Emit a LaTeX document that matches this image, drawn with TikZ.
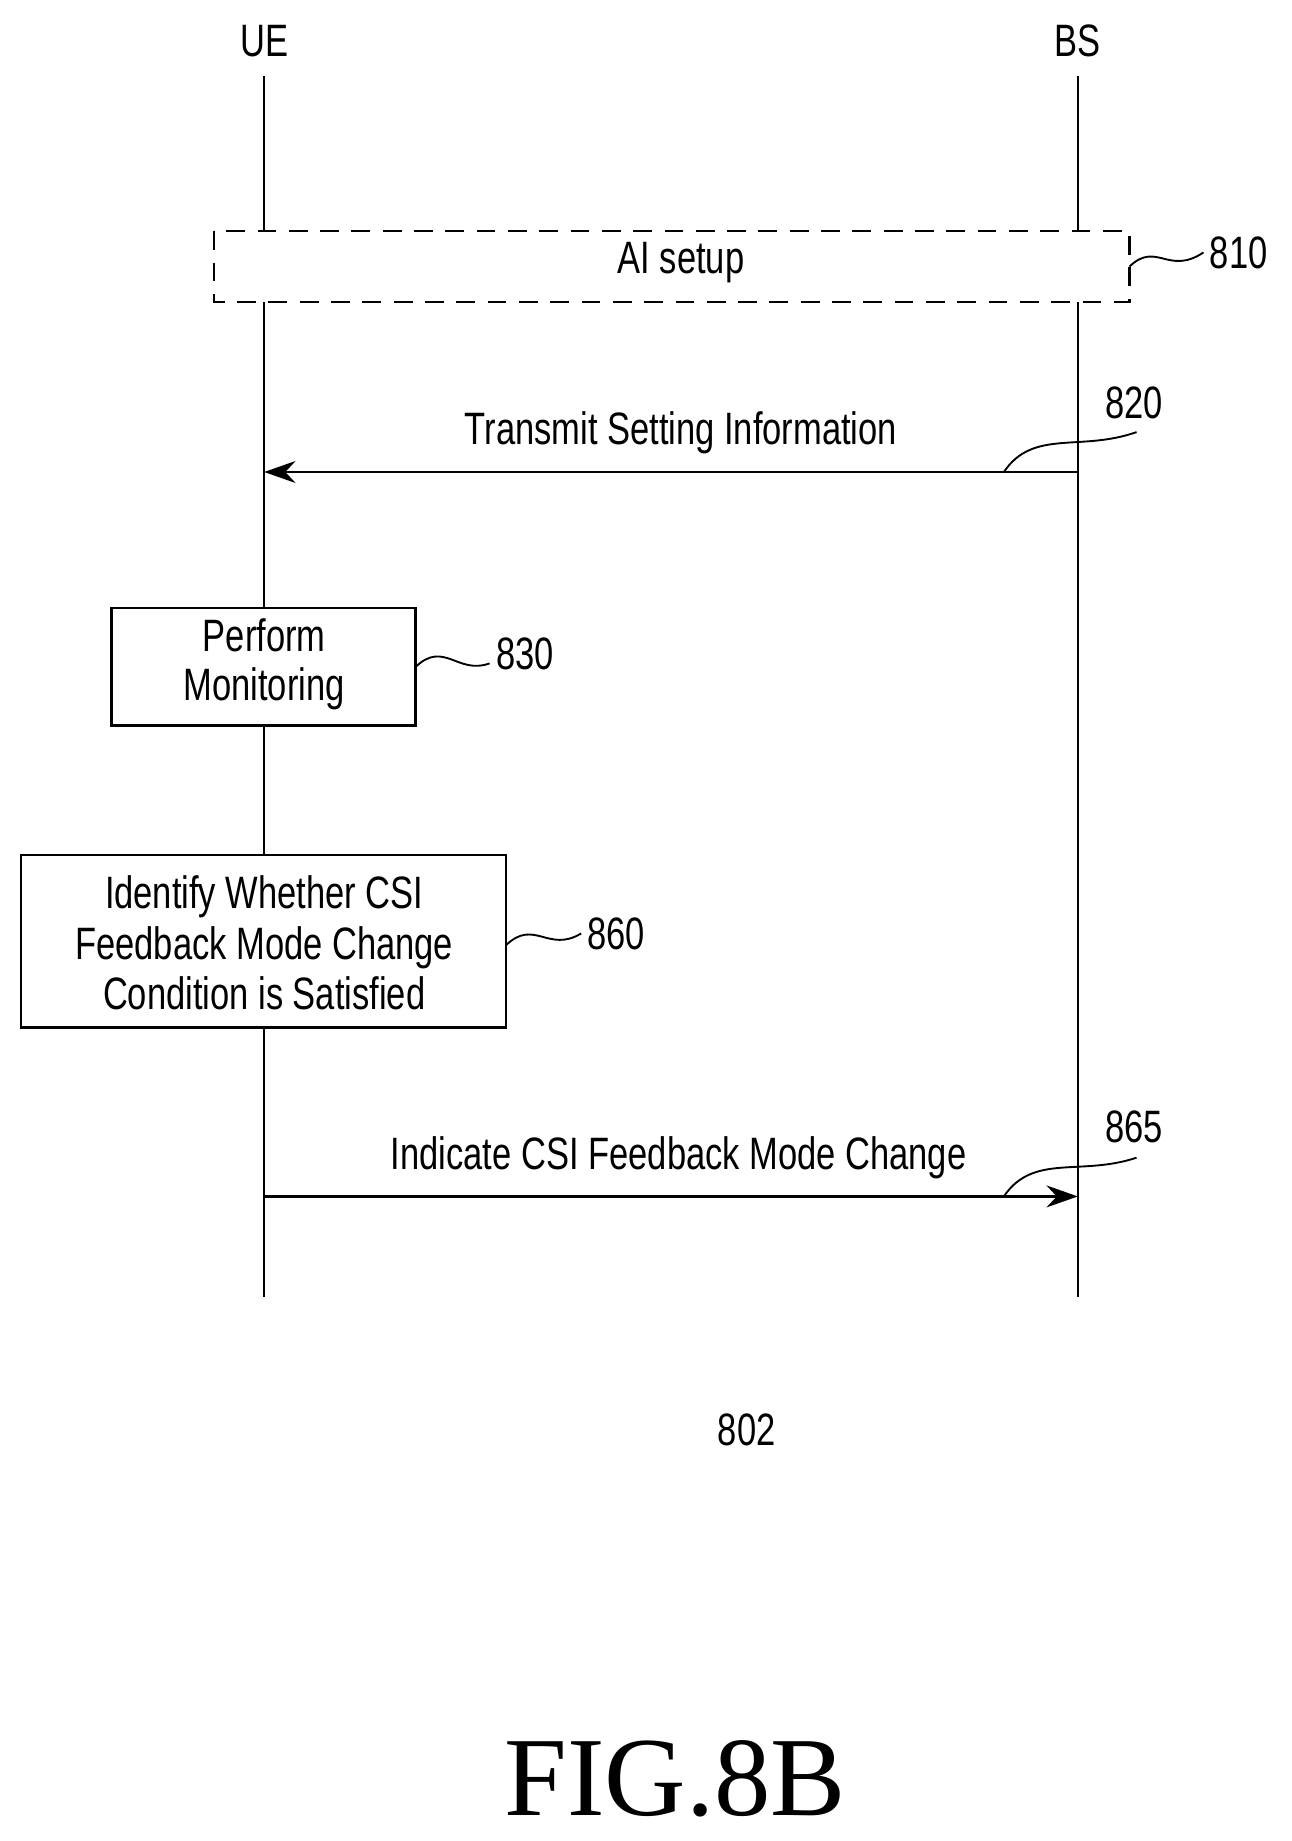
\documentclass[tikz,border=0pt]{standalone}
\usetikzlibrary{arrows.meta}
\usepackage{fontspec}
\setmainfont{Liberation Sans}[FakeStretch=0.76]
\newfontfamily\figfont{Liberation Serif}
\begin{document}
\begin{tikzpicture}[x=0.75pt,y=-0.75pt,
  lbl/.style={font=\fontsize{29}{33}\selectfont,inner sep=0pt},
  ln/.style={line width=1.5pt},
  sq/.style={line width=1.2pt},
  tip/.style={-{Stealth[length=20pt,width=14pt]}}]
\useasboundingbox (0,0) rectangle (1100,1568);
\node[lbl] (ue) at (225,35) {UE};
\node[lbl] (bs) at (918,35) {BS};
\coordinate (ueT) at (225,65); \coordinate (ueB) at (225,1105);
\coordinate (bsT) at (918,65); \coordinate (bsB) at (918,1105);
\draw[ln] (ueT)--(ueB); \draw[ln] (bsT)--(bsB);
% 810
\draw[ln,dashed,dash pattern=on 12pt off 8pt,fill=white] (182,197) rectangle (962,257);
\node[lbl] (ait) at (580,224) {AI setup};
\node[lbl] (l810) at (1055,215) {810};
\draw[sq] (962,227) .. controls (985,205) and (995,235) .. (1025,215);
% 820
\coordinate (a1) at (918,402); \coordinate (a2) at (225,402);
\draw[ln,tip] (a1)--(a2);
\node[lbl] (t820) at (580,369) {Transmit Setting Information};
\node[lbl] (l820) at (966,343) {820};
\draw[sq] (855,402) .. controls (880,365) and (920,385) .. (968,368);
% 830
\draw[ln,fill=white] (95,518) rectangle (354,618);
\node[align=center,font=\fontsize{29}{31.5}\selectfont] (b830) at (225,566) {Perform\\Monitoring};
\node[lbl] (l830) at (447,557) {830};
\draw[sq] (354,568) .. controls (378,545) and (390,575) .. (417,565);
% 860
\draw[ln,fill=white] (18,728) rectangle (431,875);
\node[align=center,font=\fontsize{29}{32}\selectfont] (b860) at (225,803) {Identify Whether CSI\\Feedback Mode Change\\Condition is Satisfied};
\node[lbl] (l860) at (525,795) {860};
\draw[sq] (431,805) .. controls (455,782) and (467,812) .. (495,795);
% 865
\coordinate (c1) at (225,1019); \coordinate (c2) at (918,1019);
\draw[ln,tip] (c1)--(c2);
\node[lbl] (t865) at (578,986) {Indicate CSI Feedback Mode Change};
\node[lbl] (l865) at (966,960) {865};
\draw[sq] (855,1019) .. controls (880,982) and (920,1002) .. (968,986);
\node[lbl] (n802) at (636,1218) {802};
\node[font=\figfont\fontsize{72}{80}\selectfont,inner sep=0pt] (fig) at (575,1515) {FIG.8B};
\end{tikzpicture}
\end{document}
